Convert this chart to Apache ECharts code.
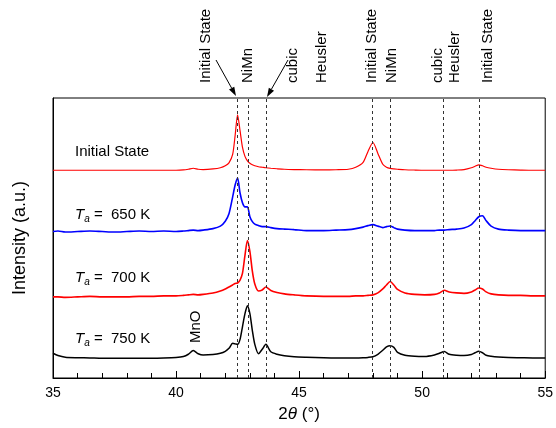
<!DOCTYPE html>
<html><head><meta charset="utf-8">
<script src="https://cdn.jsdelivr.net/npm/echarts@6/dist/echarts.min.js"></script>
<style>html,body{margin:0;padding:0;background:#fff}#c{width:556px;height:428px}</style>
</head><body><div id="c"></div>
<script>
const twoTheta = [35,35.2,35.5,36,36.5,37,37.5,38,38.5,39,
  39.5,40,40.3,40.5,40.7,40.9,41.1,41.5,41.8,42.0,
  42.15,42.3,42.4,42.5,42.6,42.7,42.8,42.9,43.0,43.1,
  43.2,43.35,43.5,43.65,43.85,44.1,44.4,44.8,45.3,46,
  46.5,47,47.3,47.6,47.8,48.0,48.2,48.4,48.55,48.7,
  48.85,49.0,49.3,49.7,50.1,50.5,50.7,50.9,51.1,51.4,
  51.7,52.0,52.15,52.3,52.45,52.6,52.8,53.1,53.5,54,
  54.5,55];
const initialState = [210,210,210,210,210,210,210,210,210,210,
  210,210,210.3,211,212,211,210.7,211.3,212.5,214.5,
  217.5,226,245,266,250,233,224,219.5,217,215.5,
  214.5,213.5,213,212.5,212,211.5,211,210.7,210.5,210.3,
  210.5,211,213,218,229,238,227,216,213,211.8,
  211.3,211,210.5,210.2,210,210,210,210,210,210.2,
  210.7,212.5,214,215.5,214.5,213,212,211,210.5,210.2,
  210,210];
const ta650 = [148,148.5,147.5,148,148.5,148,147.5,148,148.5,148,
  148.5,148,148.5,149,149.5,149,149.5,151,153.5,158.5,
  166,183,195,202,187,177,173,173,163,158,
  155.5,154,153,153,152,151,150.5,150,149,149,
  149.5,150,151,152.5,154,155,153.5,152,153,153.7,
  152,150.5,149.5,149,149,149,149.5,149.5,150,150.5,
  151.5,155,159,163,164,159,153.5,150.5,149.5,149,
  149,149];
const ta700 = [82,82,81.5,82,82.5,82,82,82,82.5,82.5,
  83,83,83.5,84,84.5,84,84.5,86,88,90,
  92,94,95.5,96,99,106,124,139,128,108,
  95,88,89,92,88.5,86.5,85,84,83,82.5,
  82.5,82.5,83,83,83.5,84,86,90,94,97.5,
  94,89.5,86,84.5,84,84.5,86,88.7,87,86,
  85.5,87,89,91,90,87,85,84,83.5,83.5,
  83,83];
const ta750 = [25,22.7,21,20.5,20.3,20,20,20,20,20,
  20.2,20.7,21.7,24,27.7,24.5,23.2,23.7,25,27,
  30,35,34.5,34,39,52,65,73,65,48,
  34,24.5,29,34,26.5,24,22.5,21.5,21,20.5,
  20.3,20.3,20.3,20.5,20.8,21.5,24,28,31.5,32.7,
  31,26,23,22,21.8,23.3,25,26.7,24,23,
  22.7,23.7,25.5,27,25.5,23,22,21.2,20.7,20.5,
  20.3,20.3];
const refLines = [42.49, 42.92, 43.67, 47.97, 48.70, 50.87, 52.33];
const xTicks = [35, 40, 45, 50, 55];
const traceLabels = ['Initial State', '650 K', '700 K', '750 K'];

const FONT = '"Liberation Sans", Arial, sans-serif';
const chart = echarts.init(document.getElementById('c'));
function zip(ys){ return twoTheta.map((x,i)=>[x, ys[i]]); }
function mkSeries(name, ys, color, w, extra){
  return Object.assign({
    name, type:'line', data: zip(ys), showSymbol:false, smooth:0.25,
    lineStyle:{color, width:w}, itemStyle:{color}, silent:true
  }, extra||{});
}
function rotText(x, y, text, size){
  return {type:'text', x, y, rotation: Math.PI/2,
    style:{text, font: size+'px '+FONT, fill:'#000', align:'left', verticalAlign:'middle'}};
}
function arrow(x1,y1,x2,y2){
  const dx=x2-x1, dy=y2-y1, L=Math.hypot(dx,dy), ux=dx/L, uy=dy/L;
  const bx=x2-9*ux, by=y2-9*uy, px=-uy*3, py=ux*3;
  return [
    {type:'line', shape:{x1,y1,x2:bx,y2:by}, style:{stroke:'#000', lineWidth:1}},
    {type:'polygon', shape:{points:[[x2,y2],[bx+px,by+py],[bx-px,by-py]]}, style:{fill:'#000'}}
  ];
}
function taLabel(y, val){
  return {type:'text', x:75, y,
    style:{text:'{i|T}{s|a}{n| =  '+val+'}', align:'left', verticalAlign:'middle',
      rich:{ i:{font:'italic 15px '+FONT, fill:'#000'},
             s:{font:'italic 10px '+FONT, fill:'#000', padding:[9,0,0,0]},
             n:{font:'15px '+FONT, fill:'#000'} } }};
}

const option = {
  animation:false,
  backgroundColor:'#fff',
  grid:{left:53, right:8, top:98, bottom:47, show:true, borderColor:'#000', borderWidth:1, backgroundColor:'transparent'},
  xAxis:{type:'value', min:35, max:55, interval:5,
    name:'{n|2}{i|θ}{n| (°)}', nameLocation:'middle', nameGap:28,
    nameTextStyle:{rich:{n:{fontSize:17, fontFamily:FONT, color:'#000'}, i:{fontSize:17, fontStyle:'italic', fontFamily:FONT, color:'#000'}}},
    axisLine:{onZero:false, lineStyle:{color:'#000'}},
    axisTick:{inside:true, length:7, lineStyle:{color:'#000'}},
    minorTick:{show:true, splitNumber:5, length:5, lineStyle:{color:'#000'}},
    axisLabel:{color:'#000', fontSize:14, fontFamily:FONT, margin:8,
      formatter: v => xTicks.includes(v) ? String(v) : ''},
    splitLine:{show:false}},
  yAxis:{type:'value', min:0, max:283,
    name:'Intensity (a.u.)', nameLocation:'middle', nameGap:24,
    nameTextStyle:{fontSize:18, fontFamily:FONT, color:'#000'},
    axisLine:{show:true, lineStyle:{color:'#000'}},
    axisTick:{show:false}, axisLabel:{show:false}, splitLine:{show:false}},
  series:[
    mkSeries(traceLabels[0], initialState, '#ff0000', 1.2, {
      markLine:{silent:true, symbol:'none', label:{show:false},
        lineStyle:{color:'#333', type:[3,3], width:1},
        data: refLines.map(v=>({xAxis:v}))}}),
    mkSeries(traceLabels[1], ta650, '#0000ff', 1.6),
    mkSeries(traceLabels[2], ta700, '#ff0000', 1.6),
    mkSeries(traceLabels[3], ta750, '#000000', 1.5)
  ],
  graphic:[
    rotText(206, 83, 'Initial State', 15),
    rotText(248, 83, 'NiMn', 15),
    rotText(293, 83, 'cubic', 15),
    rotText(322, 83, 'Heusler', 15),
    rotText(372, 83, 'Initial State', 15),
    rotText(392, 83, 'NiMn', 15),
    rotText(438, 83, 'cubic', 15),
    rotText(455, 83, 'Heusler', 15),
    rotText(488, 83, 'Initial State', 15),
    ...arrow(216, 60, 236, 96),
    ...arrow(288, 60, 267, 97),
    {type:'text', x:75, y:152, style:{text:traceLabels[0], font:'15px '+FONT, fill:'#000', align:'left', verticalAlign:'middle'}},
    taLabel(215, traceLabels[1]),
    taLabel(278, traceLabels[2]),
    taLabel(339, traceLabels[3]),
    rotText(196, 343, 'MnO', 15)
  ]
};
chart.setOption(option);
</script></body></html>
